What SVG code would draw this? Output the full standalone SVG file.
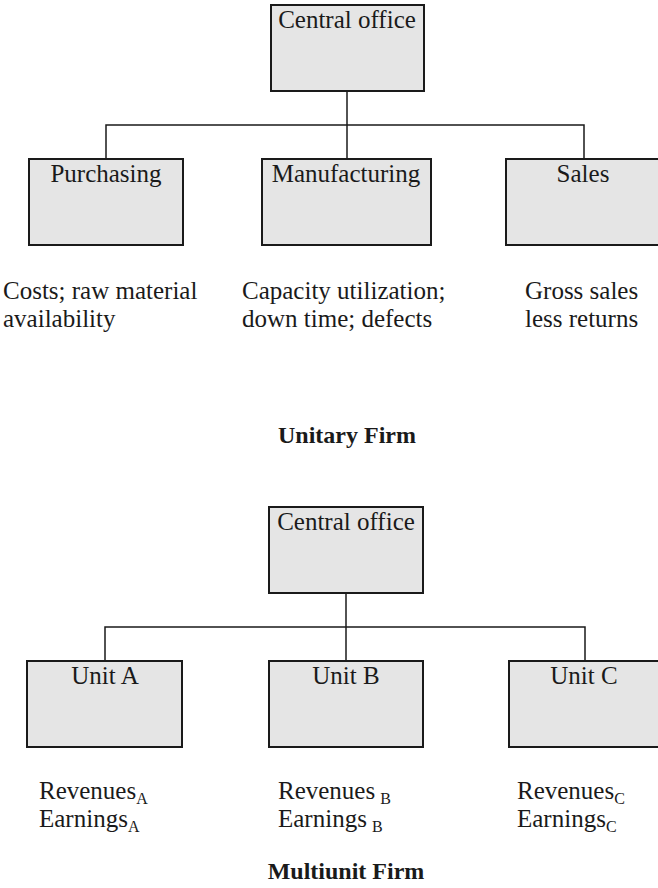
<svg xmlns="http://www.w3.org/2000/svg" width="658" height="888" viewBox="0 0 658 888">
  <style>
    .box { fill: #e5e5e5; stroke: #1a1a1a; stroke-width: 2; }
    .wire { fill: none; stroke: #1a1a1a; stroke-width: 1.5; }
    text { font-family: "Liberation Serif", "Times New Roman", serif; font-size: 25px; fill: #1a1a1a; }
    .c { text-anchor: middle; }
    .title { font-weight: bold; font-size: 24px; text-anchor: middle; }
    .sub { font-size: 16px; }
  </style>

  <rect width="658" height="888" fill="#ffffff"/>

  <!-- Unitary firm: tree lines -->
  <g id="connectors-unitary">
    <path class="wire" d="M347,91 V159"/>
    <path class="wire" d="M106,159 V125 H584 V159"/>
  </g>

  <g id="central-office-1">
    <rect class="box" x="271" y="5" width="153" height="86"/>
    <text class="c" x="347" y="28">Central office</text>
  </g>
  <g id="purchasing">
    <rect class="box" x="29" y="159" width="154" height="86"/>
    <text class="c" x="106" y="182">Purchasing</text>
  </g>
  <g id="manufacturing">
    <rect class="box" x="262" y="159" width="169" height="86"/>
    <text class="c" x="346" y="182">Manufacturing</text>
  </g>
  <g id="sales">
    <rect class="box" x="506" y="159" width="160" height="86"/>
    <text class="c" x="583" y="182">Sales</text>
  </g>

  <g id="measures-unitary">
    <text x="3" y="299">Costs; raw material</text>
    <text x="3" y="327">availability</text>
    <text x="242" y="299">Capacity utilization;</text>
    <text x="242" y="327">down time; defects</text>
    <text x="525" y="299">Gross sales</text>
    <text x="525" y="327">less returns</text>
  </g>

  <text class="title" x="347" y="443">Unitary Firm</text>

  <!-- Multiunit firm: tree lines -->
  <g id="connectors-multiunit">
    <path class="wire" d="M346,593 V661"/>
    <path class="wire" d="M105,661 V627 H585 V661"/>
  </g>

  <g id="central-office-2">
    <rect class="box" x="269" y="507" width="154" height="86"/>
    <text class="c" x="346" y="530">Central office</text>
  </g>
  <g id="unit-a">
    <rect class="box" x="27" y="661" width="155" height="86"/>
    <text class="c" x="105" y="684">Unit A</text>
  </g>
  <g id="unit-b">
    <rect class="box" x="269" y="661" width="154" height="86"/>
    <text class="c" x="346" y="684">Unit B</text>
  </g>
  <g id="unit-c">
    <rect class="box" x="509" y="661" width="160" height="86"/>
    <text class="c" x="584" y="684">Unit C</text>
  </g>

  <g id="measures-multiunit">
    <text x="39" y="799">Revenues<tspan class="sub" dy="5">A</tspan></text>
    <text x="39" y="827">Earnings<tspan class="sub" dy="5">A</tspan></text>
    <text x="278" y="799">Revenues<tspan class="sub" dx="5" dy="5">B</tspan></text>
    <text x="278" y="827">Earnings<tspan class="sub" dx="5" dy="5">B</tspan></text>
    <text x="517" y="799">Revenues<tspan class="sub" dy="5">C</tspan></text>
    <text x="517" y="827">Earnings<tspan class="sub" dy="5">C</tspan></text>
  </g>

  <text class="title" x="346" y="879">Multiunit Firm</text>
</svg>
